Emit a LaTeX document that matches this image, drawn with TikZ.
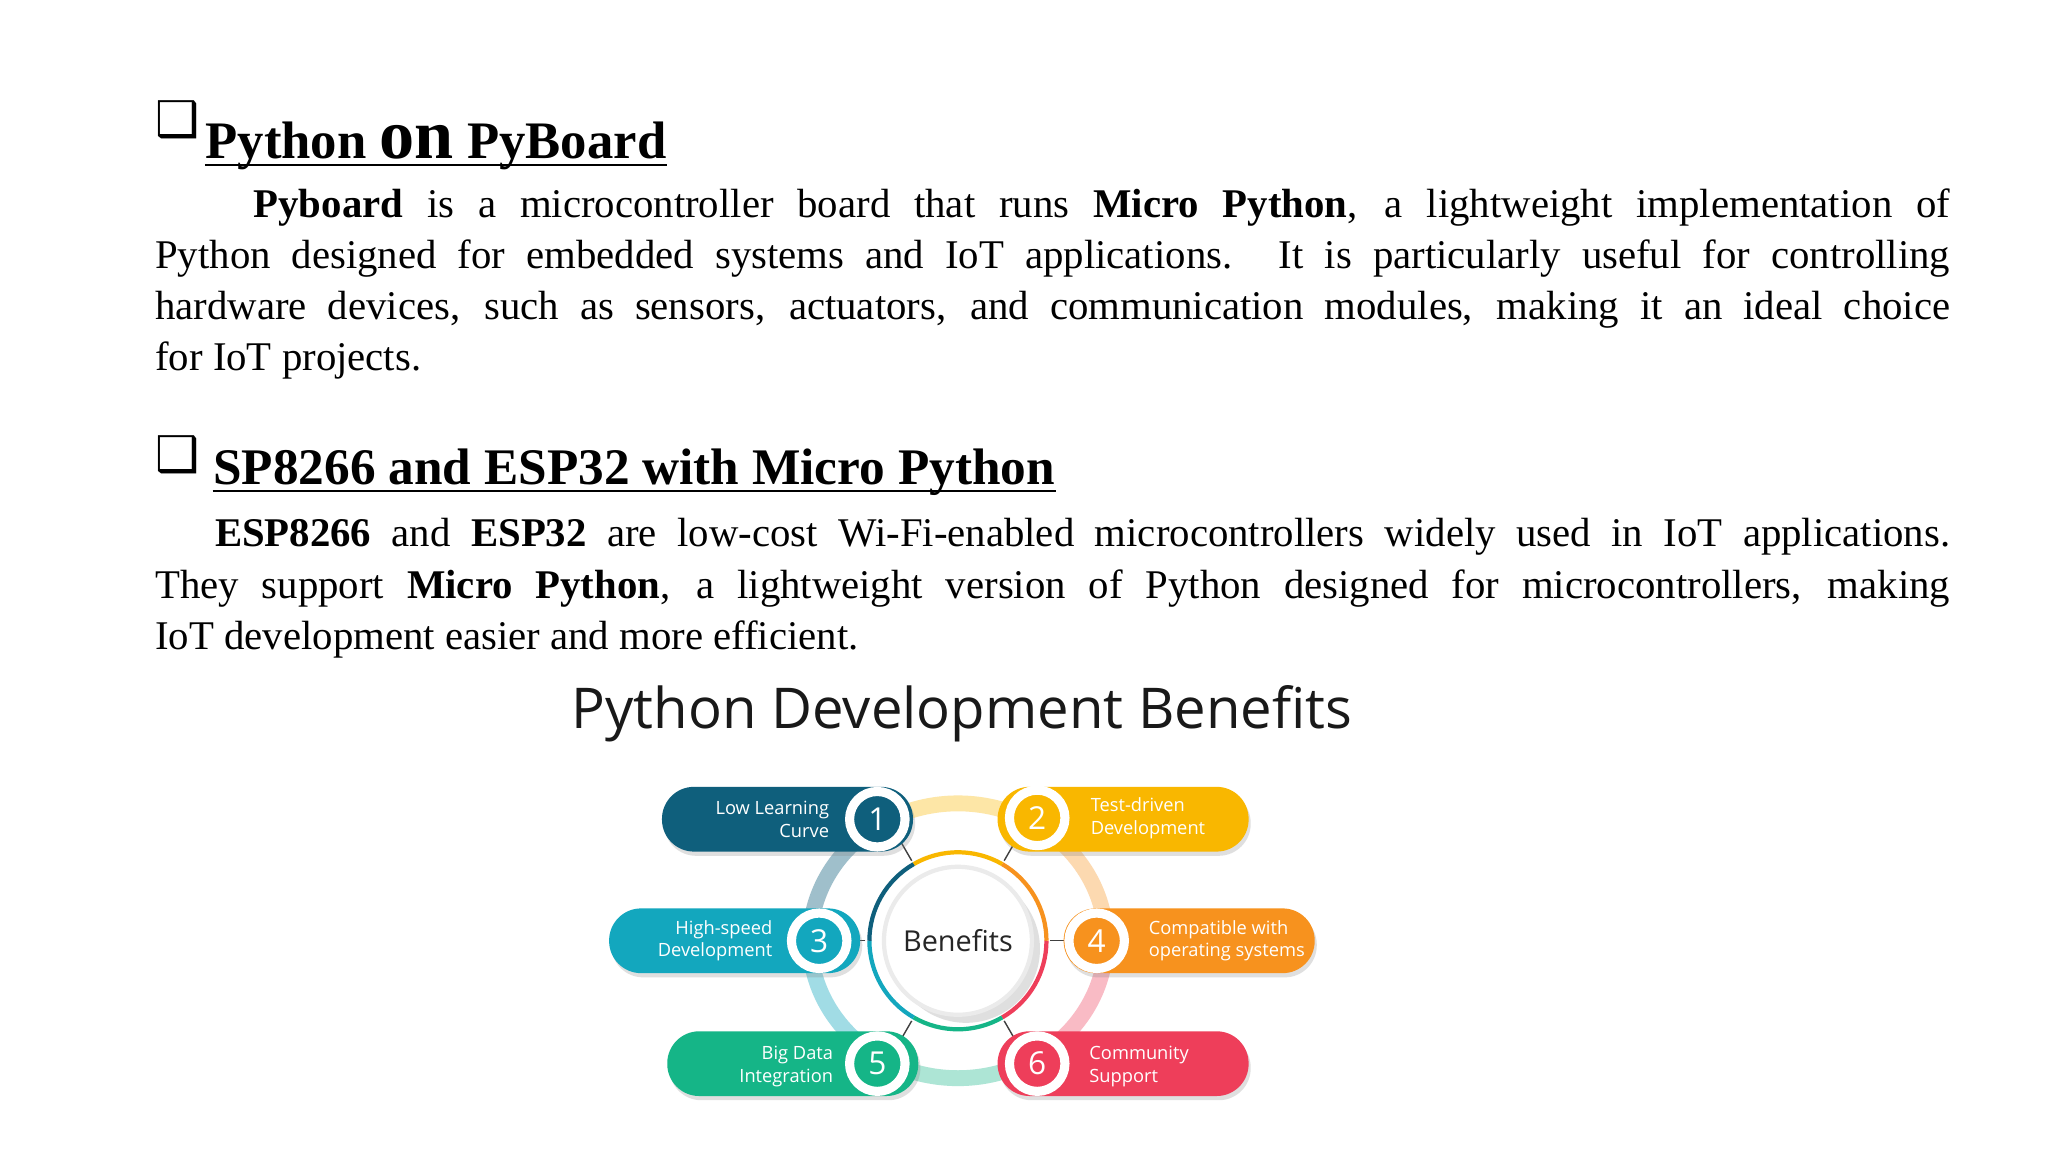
\documentclass[tikz,border=0pt]{standalone}
\usepackage{fontspec}
\setmainfont{Liberation Serif}
\newfontfamily\osans{Open Sans}
\newfontfamily\djv{DejaVu Sans}
\usetikzlibrary{shadows,calc}
\definecolor{cA}{HTML}{0F5F7C}
\definecolor{cB}{HTML}{F9B700}
\definecolor{cC}{HTML}{13A7BE}
\definecolor{cD}{HTML}{F7921E}
\definecolor{cE}{HTML}{15B587}
\definecolor{cF}{HTML}{EE3E5A}
\begin{document}
\begin{tikzpicture}[x=0.01321cm,y=-0.01321cm,
  pill/.style={draw=none,fill=#1,rounded corners=0.32cm,minimum width=190*0.01321cm,minimum height=49*0.01321cm,drop shadow={opacity=0.25,shadow xshift=0.6pt,shadow yshift=-1.2pt}},
  numc/.style={circle,fill=#1,draw=white,line width=2.6pt,minimum size=42*0.01321cm,inner sep=0pt,text=white,font=\osans\fontsize{9}{10}\selectfont},
  lab/.style={text=white,font=\osans\fontsize{5.2}{6.5}\selectfont,inner sep=0pt},
  para/.style={anchor=north west,inner sep=0pt,text width=17.95cm,align=justify,font=\fontsize{11.6}{14.6}\selectfont},
  head/.style={anchor=base west,inner sep=0pt,font=\bfseries\fontsize{#1}{18}\selectfont},
  uline/.style={line width=0.7pt},
  spoke/.style={draw=black!75,line width=0.4pt}]
\useasboundingbox (0,0) rectangle (1550,872);
\fill[white] (0,0) rectangle (1550,872);
% headings
\node[anchor=base west,inner sep=0pt,font=\djv\fontsize{14}{14}\selectfont] (cb1) at (117,103) {❑};
\node[head=15] (h1) at (155,120) {Python\ {\fontsize{20}{20}\selectfont on}\ PyBoard};
\draw[uline] ($(h1.base west)+(0,-1.8pt)$) -- ($(h1.base east)+(0,-1.8pt)$);
\node[para] (p1) at (117,142) {\hspace*{28pt}\textbf{Pyboard} is a microcontroller board that runs \textbf{Micro Python}, a lightweight implementation of\linebreak Python designed for embedded systems and IoT applications. It is particularly useful for controlling\linebreak hardware devices, such as sensors, actuators, and communication modules, making it an ideal choice\linebreak for IoT projects.};
\node[anchor=base west,inner sep=0pt,font=\djv\fontsize{14}{14}\selectfont] (cb2) at (117,357) {❑};
\node[head=14.6] (h2) at (161,367) {SP8266 and ESP32 with Micro Python};
\draw[uline] ($(h2.base west)+(0,-1.8pt)$) -- ($(h2.base east)+(0,-1.8pt)$);
\node[para] (p2) at (117,392) {\hspace*{17pt}\textbf{ESP8266} and \textbf{ESP32} are low-cost Wi-Fi-enabled microcontrollers widely used in IoT applications.\linebreak They support \textbf{Micro Python}, a lightweight version of Python designed for microcontrollers, making\linebreak IoT development easier and more efficient.};
\node[inner sep=0pt,font=\osans\fontsize{16}{18}\selectfont,text=black!90] (title) at (728,540) {Python Development Benefits};
% outer ring
\coordinate (c) at (725,712);
\foreach \a/\col in {90/cB!35,30/cD!35,-30/cF!35,-90/cE!35,-150/cC!40,150/cA!40}{
  \draw[\col,line width=12*0.01321cm] ($(c)+(\a-30:112 and -104)$) arc[start angle=\a-30,end angle=\a+30,x radius=112,y radius=-104];
}
% spokes
\foreach \a in {60,120,180,0,240,300}{
  \draw[spoke] ($(c)+(\a:70 and -70)$) -- ($(c)+(\a:120 and -120)$);
}
% inner ring
\foreach \a/\col in {90/cB,30/cD,-30/cF,-90/cE,-150/cC,150/cA}{
  \draw[\col,line width=3.2*0.01321cm] ($(c)+(\a-30:67 and -67)$) arc[start angle=\a-30,end angle=\a+30,x radius=67,y radius=-67];
}
\node[circle,fill=white,draw=black!8,line width=1.2pt,minimum size=112*0.01321cm,drop shadow={opacity=0.25},inner sep=0pt,font=\osans\fontsize{8.2}{9}\selectfont,text=black!85] (ben) at (c) {Benefits};
% pills
\node[pill=cA] (b1) at (596,620) {};
\node[pill=cB] (b2) at (850,620) {};
\node[pill=cC] (b3) at (556,712) {};
\node[pill=cD] (b4) at (900,712) {};
\node[pill=cE] (b5) at (600,805) {};
\node[pill=cF] (b6) at (850,805) {};
\node[numc=cA] (n1) at (664,620) {1};
\node[numc=cB] (n2) at (785,619) {2};
\node[numc=cC] (n3) at (620,712) {3};
\node[numc=cD] (n4) at (830,712) {4};
\node[numc=cE] (n5) at (664,805) {5};
\node[numc=cF] (n6) at (785,805) {6};
\node[lab,anchor=east,align=right] (t1) at (628,620) {Low Learning\\Curve};
\node[lab,anchor=west,align=left] (t2) at (825,619) {Test-driven\\Development};
\node[lab,anchor=east,align=right] (t3) at (585,712) {High-speed\\Development};
\node[lab,anchor=west,align=left] (t4) at (869,712) {Compatible with\\operating systems};
\node[lab,anchor=east,align=right] (t5) at (631,807) {Big Data\\Integration};
\node[lab,anchor=west,align=left] (t6) at (824,807) {Community\\Support};
\end{tikzpicture}
\end{document}
